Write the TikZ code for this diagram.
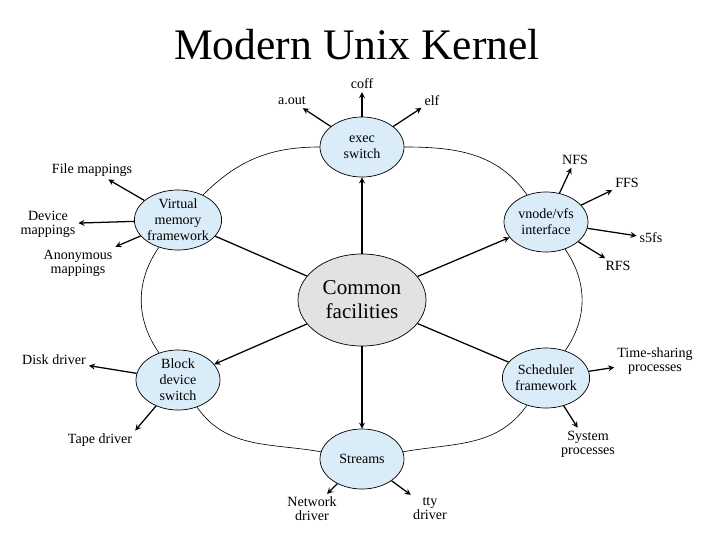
\documentclass[tikz,border=0pt]{standalone}
\usepackage{fontspec}
\setmainfont{Liberation Serif}
\usetikzlibrary{arrows,shapes.geometric,positioning,calc}
\definecolor{partblue}{RGB}{218,236,248}
\definecolor{coregray}{RGB}{226,226,226}

\begin{document}
\begin{tikzpicture}[x=0.025cm, y=-0.025cm, >=stealth,
  part/.style={ellipse, draw, line width=0.5pt, fill=partblue, minimum width=2.1cm,
    minimum height=1.5cm, inner sep=0pt, align=center, font=\fontsize{10}{11.5}\selectfont},
  core/.style={ellipse, draw, line width=0.5pt, fill=coregray, minimum width=3.2cm,
    minimum height=2.3cm, inner sep=0pt, align=center, font=\fontsize{15}{17}\selectfont},
  leaf/.style={align=center, inner sep=2pt, font=\fontsize{10}{10}\selectfont},
  spoke/.style={line width=0.9pt},
  ring/.style={line width=0.45pt}]

\useasboundingbox (0,0) rectangle (720,540);

\node [font=\fontsize{31}{31}\selectfont] (title) at (357,45) {Modern Unix Kernel};

% the kernel parts
\node [core] (core) at (362,300) {Common\\facilities};
\node [part] (exec) at (362,147) {exec\\switch};
\node [part] (vm) at (178,220) {Virtual\\memory\\framework};
\node [part] (vnode) at (546,222) {vnode/vfs\\interface};
\node [part] (block) at (178,380) {Block\\device\\switch};
\node [part] (sched) at (546,378) {Scheduler\\framework};
\node [part] (streams) at (362,459) {Streams};

% outer ring
\draw [ring] (exec) to[out=180, in=45] (vm);
\draw [ring] (vm) to[out=235, in=125] (block);
\draw [ring] (block) to[out=305, in=170] (streams);
\draw [ring] (streams) to[out=10, in=235] (sched);
\draw [ring] (sched) to[out=55, in=305] (vnode);
\draw [ring] (vnode) to[out=125, in=0] (exec);

% spokes
\foreach \n in {exec,vnode,block,streams}
  \draw [spoke,->] (core) -- (\n);
\foreach \n in {vm,sched}
  \draw [spoke] (core) -- (\n);

% leaves
\node [leaf] (aout) at (292,101) {a.out};
\node [leaf] (coff) at (362,84) {coff};
\node [leaf] (elf) at (432,101) {elf};
\node [leaf] (filemap) at (92,170) {File mappings};
\node [leaf] (devmap) at (48,224) {Device\\mappings};
\node [leaf] (anonmap) at (78,263) {Anonymous\\mappings};
\node [leaf] (nfs) at (575,160) {NFS};
\node [leaf] (ffs) at (627,183) {FFS};
\node [leaf] (sfs) at (651,238) {s5fs};
\node [leaf] (rfs) at (618,266) {RFS};
\node [leaf] (disk) at (54,360) {Disk driver};
\node [leaf] (tape) at (100,440) {Tape driver};
\node [leaf] (tshare) at (655,361) {Time-sharing\\processes};
\node [leaf] (sysproc) at (588,444) {System\\processes};
\node [leaf] (netdrv) at (312,509) {Network\\driver};
\node [leaf] (ttydrv) at (430,509) {tty\\driver};

\foreach \a/\b in {exec/aout, exec/coff, exec/elf,
                   vm/filemap, vm/devmap, vm/anonmap.north east,
                   vnode/nfs, vnode/ffs, vnode/sfs, vnode/rfs,
                   block/disk, block/tape.north east,
                   sched/tshare, sched/sysproc,
                   streams/netdrv, streams/ttydrv}
  \draw [spoke,->] (\a) -- (\b);

\end{tikzpicture}
\end{document}
